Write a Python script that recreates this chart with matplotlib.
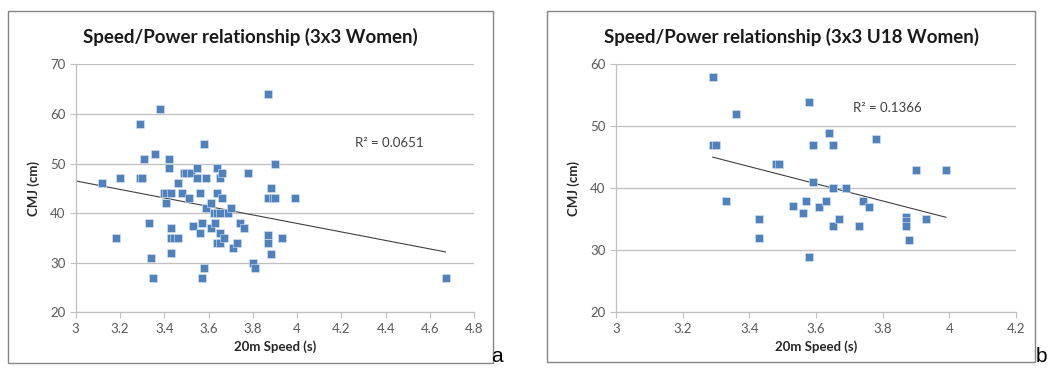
import numpy as np
import matplotlib.pyplot as plt
from matplotlib.patches import Rectangle

# 3x3 Women: 20m speed (s) vs CMJ (cm)
speed_a = [3.12, 3.18, 3.20, 3.29, 3.29, 3.30, 3.31, 3.33, 3.34, 3.35, 3.36, 3.38,
           3.40, 3.41, 3.41, 3.42, 3.42, 3.43, 3.43, 3.43, 3.43, 3.445, 3.46, 3.46,
           3.48, 3.49, 3.50, 3.52, 3.51, 3.53, 3.55, 3.55, 3.56, 3.56, 3.57, 3.57,
           3.58, 3.58, 3.59, 3.59, 3.61, 3.61, 3.626, 3.638, 3.65, 3.63, 3.64, 3.64,
           3.64, 3.65, 3.65, 3.65, 3.66, 3.66, 3.67, 3.69, 3.70, 3.71, 3.73, 3.74,
           3.76, 3.78, 3.80, 3.81, 3.87, 3.87, 3.87, 3.87, 3.88, 3.88, 3.90, 3.89,
           3.90, 3.93, 3.99, 4.67]
cmj_a = [46, 35, 47, 58, 47, 47, 51, 38, 31, 27, 52, 61,
         44, 44, 42, 51, 49, 44, 37, 32, 35, 35, 35, 46,
         44, 48, 48, 48, 43, 37.5, 49, 47, 44, 36, 38, 27,
         54, 29, 47, 41, 37, 42, 40, 40, 40, 38, 49, 44,
         34, 34, 36, 47, 48, 43, 35, 40, 41, 33, 34, 38,
         37, 48, 30, 29, 64, 43, 35.5, 34, 45, 31.7, 50, 43,
         43, 35, 43, 27]

# 3x3 U18 Women
speed_b = [3.29, 3.29, 3.30, 3.36, 3.33, 3.43, 3.43, 3.48, 3.49, 3.53, 3.56, 3.57,
           3.58, 3.58, 3.59, 3.59, 3.61, 3.63, 3.64, 3.65, 3.65, 3.65, 3.67, 3.69,
           3.73, 3.74, 3.76, 3.78, 3.87, 3.87, 3.87, 3.88, 3.90, 3.93, 3.99]
cmj_b = [58, 47, 47, 52, 38, 35, 32, 44, 44, 37.2, 36, 38,
         54, 29, 47, 41, 37, 38, 49, 47, 40, 34, 35, 40,
         34, 38, 37, 48, 35.4, 34.8, 34, 31.6, 43, 35, 43]

panels = [
    dict(x=speed_a, y=cmj_a, title='Speed/Power relationship (3x3 Women)',
         r2='R² = 0.0651', r2pos=(4.26, 54.2), xlim=(3, 4.8), ylim=(20, 70),
         yticks=[20, 30, 40, 50, 60, 70], letter='a', trend_from=3.0),
    dict(x=speed_b, y=cmj_b, title='Speed/Power relationship (3x3 U18 Women)',
         r2='R² = 0.1366', r2pos=(3.71, 53.0), xlim=(3, 4.2), ylim=(20, 60),
         yticks=[20, 30, 40, 50, 60], letter='b', trend_from=None),
]

W, H = 1053, 374
fig = plt.figure(figsize=(W / 100, H / 100), dpi=100)
fig.patch.set_facecolor('white')

font = ['Lato', 'DejaVu Sans']
grey = '#595959'

boxes = [(8, 11, 492.7, 363), (547.3, 11, 1035, 362)]
axpos = [(75.7, 64.3, 474.3, 312.3), (616, 64.3, 1016, 312.3)]
letters = [(491, 357), (1036, 357)]

for p, box, ap, lp in zip(panels, boxes, axpos, letters):
    x0, y0, x1, y1 = box
    fig.patches.append(Rectangle((x0 / W, 1 - y1 / H), (x1 - x0) / W, (y1 - y0) / H,
                                 transform=fig.transFigure, fill=False,
                                 edgecolor='#868686', linewidth=1.0))
    # chart title is centred on the chart box, not the plot area
    fig.text((x0 + x1) / 2 / W, 1 - 36.5 / H, p['title'], fontsize=13.5,
             fontweight='bold', family=font, color='#1a1a1a', ha='center', va='center')

    l, t, r, b = ap
    ax = fig.add_axes([l / W, 1 - b / H, (r - l) / W, (b - t) / H])

    x = np.array(p['x'])
    y = np.array(p['y'])
    ax.scatter(x, y, marker='s', s=32, color='#4f81bd', edgecolors='#dce6f2',
               linewidths=0.4, zorder=3)

    k, c = np.polyfit(x, y, 1)
    start = x.min() if p['trend_from'] is None else p['trend_from']
    xs = np.array([start, x.max()])
    ax.plot(xs, k * xs + c, color='#404040', linewidth=0.8, zorder=2)

    ax.text(p['r2pos'][0], p['r2pos'][1], p['r2'], fontsize=9.5, color='#404040',
            family=font, va='center')

    ax.set_xlim(*p['xlim'])
    ax.set_ylim(*p['ylim'])
    ax.set_xticks(np.arange(p['xlim'][0], p['xlim'][1] + 0.01, 0.2))
    ax.set_xticklabels(['%g' % round(v, 1) for v in ax.get_xticks()])
    ax.set_yticks(p['yticks'])
    ax.yaxis.grid(True, color='#bfbfbf', linewidth=0.9)
    ax.set_axisbelow(True)
    for s in ['top', 'right']:
        ax.spines[s].set_visible(False)
    for s in ['left', 'bottom']:
        ax.spines[s].set_color('#bfbfbf')
        ax.spines[s].set_linewidth(0.9)
    ax.tick_params(direction='out', length=4, width=0.8, color='#bfbfbf',
                   labelcolor=grey, labelsize=9.5)
    for lab in ax.get_xticklabels() + ax.get_yticklabels():
        lab.set_family(font)

    ax.set_xlabel('20m Speed (s)', fontsize=9.5, fontweight='bold', family=font,
                  color='#262626', labelpad=4)
    ax.set_ylabel('CMJ (cm)', fontsize=9.5, fontweight='bold', family=font,
                  color='#262626', labelpad=7)

    fig.text(lp[0] / W, 1 - lp[1] / H, p['letter'], fontsize=15, family='Liberation Sans',
             va='center', ha='left')

fig.savefig('out.png', dpi=100)
